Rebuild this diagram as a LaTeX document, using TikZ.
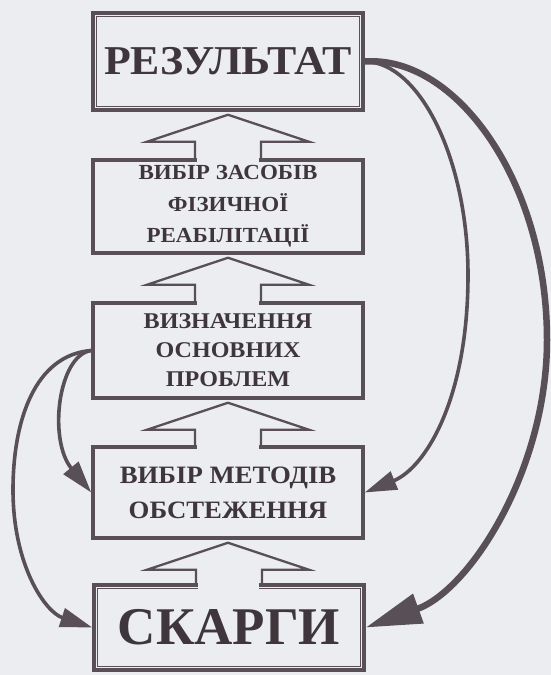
\documentclass[tikz,border=0pt]{standalone}
\usepackage{fontspec}
\setmainfont{Liberation Serif}
\newfontfamily\widserif[FakeStretch=1.07]{Liberation Serif}
\usetikzlibrary{calc,arrows.meta}
\definecolor{paper}{RGB}{236,237,241}
\definecolor{ink}{RGB}{88,80,86}
\definecolor{inktext}{RGB}{62,54,58}
\tikzset{
  box/.style={draw=ink, line width=3.5pt, fill=paper, minimum width=270pt,
    inner sep=0pt, text=inktext, align=center},
  inner frame/.style={draw=ink, line width=1.3pt},
  hollow/.style={draw=ink, line width=2.3pt, line join=miter},
  flow/.style={draw=ink, line width=3.6pt,
    -{Triangle[length=32pt,width=19pt]}},
  bigflow/.style={draw=ink, line width=6.5pt,
    -{Triangle[length=56pt,width=30pt]}},
}
% hollow block arrow pointing up from box #2 into box #1
\newcommand{\hollowarrow}[2]{%
  \coordinate (tip) at ($(#1.south)+(0,3)$);
  \coordinate (foot) at (#2.north);
  \fill[paper] ($(foot)+(-31,6)$) rectangle ($(tip)+(31,27)$);
  \draw[hollow] ($(foot)+(-33,0)$) |- ($(tip)+(-81,27)$) -- (tip)
    -- ($(tip)+(81,27)$) -| ($(foot)+(33,0)$);
}
\begin{document}
\begin{tikzpicture}[x=1pt,y=-1pt]
  \fill[paper] (0,0) rectangle (551,675);
  \useasboundingbox (0,0) rectangle (551,675);

  % boxes
  \node[box, minimum height=97pt, font=\widserif\fontsize{41}{44}\selectfont\bfseries]
    (b1) at (228,61.5) {РЕЗУЛЬТАТ};
  \draw[inner frame] ($(b1.north west)+(5,5)$) rectangle ($(b1.south east)+(-5,-5)$);

  \node[box, minimum height=93pt, font=\widserif\fontsize{21.5}{31.5}\selectfont\bfseries]
    (b2) at (228,206.5) {ВИБІР ЗАСОБІВ\\ФІЗИЧНОЇ\\РЕАБІЛІТАЦІЇ};

  \node[box, minimum height=95pt, font=\widserif\fontsize{22.5}{29}\selectfont\bfseries]
    (b3) at (228,350.5) {ВИЗНАЧЕННЯ\\ОСНОВНИХ\\ПРОБЛЕМ};

  \node[box, minimum height=91pt, font=\widserif\fontsize{25}{35}\selectfont\bfseries]
    (b4) at (228,492.5) {ВИБІР МЕТОДІВ\\ОБСТЕЖЕННЯ};

  \node[box, minimum height=85pt, font=\fontsize{53}{58}\selectfont\bfseries]
    (b5) at (229,627.5) {СКАРГИ};
  \draw[inner frame] ($(b5.north west)+(5,5)$) rectangle ($(b5.south east)+(-5,-5)$);

  % hollow arrows of the main chain
  \hollowarrow{b1}{b2}
  \hollowarrow{b2}{b3}
  \hollowarrow{b3}{b4}
  \hollowarrow{b4}{b5}

  % feedback arrows on the right
  \draw[bigflow] (b1.east) .. controls (455,55) and (547,180) .. (547,340)
    .. controls (547,470) and (470,590) .. (b5.east);
  \draw[flow] (b1.east) .. controls (420,62) and (468,160) .. (468,275)
    .. controls (468,400) and (425,468) .. (b4.east);

  % arrows on the left
  \draw[flow] (b3.west) .. controls (58,355) and (48,440) .. (b4.west);
  \draw[flow] (b3.west) .. controls (35,355) and (13,420) .. (13,490)
    .. controls (13,565) and (45,612) .. (b5.west);
\end{tikzpicture}
\end{document}
